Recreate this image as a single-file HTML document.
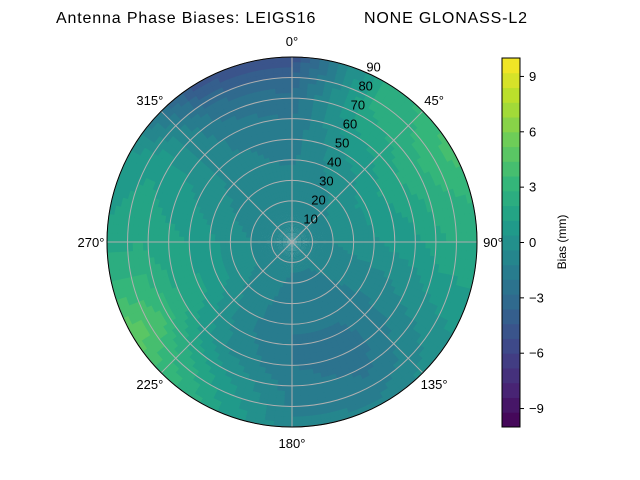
<!DOCTYPE html>
<html><head><meta charset="utf-8"><style>
body{margin:0;background:#fff}
svg{display:block;font-family:"Liberation Sans",sans-serif}
</style></head><body>
<svg id="c" width="640" height="480">
<text x="56" y="23" textLength="471" lengthAdjust="spacing" font-size="16" xml:space="preserve">Antenna Phase Biases: LEIGS16         NONE GLONASS-L2</text>
<g id="plot"></g>
<g id="cbar"></g>
<text transform="translate(566,242) rotate(-90)" text-anchor="middle" font-size="12">Bias (mm)</text>
</svg>
<script>
const zenithRows=[0,15,30,45,60,75,90];
const azCols=[0,30,60,90,120,150,180,210,240,270,300,330];
const biasGrid=[
[-0.5,-0.5,-0.5,-0.5,-0.5,-0.5,-0.5,-0.5,-0.5,-0.5,-0.5,-0.5],
[-1,-0.8,-0.6,-0.6,-1,-1.2,-1.2,-1,-0.6,-0.6,-0.8,-1],
[-1,-0.5,0,0,-1,-1.5,-1.5,-1,0,0,-0.5,-1],
[-1.5,0,1,0.5,-1,-2,-2,-1,1,1,0,-1],
[-2,1,2,1,-0.5,-2.5,-2,-0.5,2,1.5,0.5,-1.5],
[-3,2,3,2,0,-2,-1.5,1,4,2,1,-2.5],
[-5,2,4,2,0.5,-1,-1,2,5,1.5,0.5,-5]];
const ringTicks=[10,20,30,40,50,60,70,80,90];
const azTicks=[0,45,90,135,180,225,270,315];
const cbarTicks=[-9,-6,-3,0,3,6,9];
const vmin=-10,vmax=10,nLev=25;

const NS="http://www.w3.org/2000/svg";
const cx=292,cy=242,R=185;
const vir=[[68,1,84],[72,40,120],[62,74,137],[49,104,142],[38,130,142],[31,158,137],[53,183,121],[109,205,89],[180,222,44],[253,231,37]];
function viridis(t){t=Math.max(0,Math.min(1,t));const p=t*(vir.length-1),i=Math.min(vir.length-2,Math.floor(p)),f=p-i;
const c=vir[i].map((v,k)=>Math.round(v+(vir[i+1][k]-v)*f));return`rgb(${c})`;}
function levelColor(v){let b=Math.floor((v-vmin)/(vmax-vmin)*nLev);b=Math.max(0,Math.min(nLev-1,b));return viridis((b+0.5)/nLev);}
function val(az,z){az=((az%360)+360)%360;const ai=Math.floor(az/30),af=(az-ai*30)/30,a2=(ai+1)%12;
let zi=Math.min(5,Math.floor(z/15)),zf=(z-zi*15)/15;
const v0=biasGrid[zi][ai]*(1-af)+biasGrid[zi][a2]*af,v1=biasGrid[zi+1][ai]*(1-af)+biasGrid[zi+1][a2]*af;return v0*(1-zf)+v1*zf;}
const rs=z=>z/90*R;
function pt(az,r){const a=az*Math.PI/180;return[cx+r*Math.sin(a),cy-r*Math.cos(a)];}
function mk(tag,at,par){const e=document.createElementNS(NS,tag);for(const k in at)e.setAttribute(k,at[k]);par.appendChild(e);return e;}
const plot=document.getElementById('plot');
const cells=mk('g',{},plot);


const dA=3,dZ=2.5;
for(let z=0;z<90;z+=dZ)for(let a=0;a<360;a+=dA){
const r0=rs(z),r1=rs(z+dZ)+0.4;const p1=pt(a-0.3,r0),p2=pt(a+dA+0.3,r0),p3=pt(a+dA+0.3,r1),p4=pt(a-0.3,r1);
mk('path',{d:`M${p1}L${p2}L${p3}L${p4}Z`,fill:levelColor(val(a+dA/2,z+dZ/2))},cells);}
const grid=mk('g',{stroke:'#b0b0b0','stroke-width':1,fill:'none'},plot);


ringTicks.forEach(t=>mk('circle',{cx,cy,r:rs(t)},grid));
azTicks.forEach(a=>{const p=pt(a,R);mk('line',{x1:cx,y1:cy,x2:p[0],y2:p[1]},grid);});
mk('circle',{cx,cy,r:R,fill:'none',stroke:'#000','stroke-width':1},plot);
ringTicks.forEach(t=>{const p=pt(22.5,rs(t)+4);const e=mk('text',{x:p[0]+2,y:p[1]+4,'font-size':13,'text-anchor':'start'},plot);e.textContent=t;
});
azTicks.forEach(a=>{const p=pt(a,R+16);const e=mk('text',{x:p[0],y:p[1]+5,'font-size':13,'text-anchor':'middle'},plot);e.textContent=a+'°';
});
const cb=document.getElementById('cbar');const bx=502,by=58,bw=18,bh=369;
for(let i=0;i<nLev;i++){const y0=by+bh-(i+1)*bh/nLev;mk('rect',{x:bx,y:y0,width:bw,height:bh/nLev+0.5,fill:viridis((i+0.5)/nLev)},cb);}
mk('rect',{x:bx,y:by,width:bw,height:bh,fill:'none',stroke:'#000','stroke-width':1},cb);
cbarTicks.forEach(t=>{const y=by+bh-(t-vmin)/(vmax-vmin)*bh;mk('line',{x1:bx+bw,x2:bx+bw+4,y1:y,y2:y,stroke:'#000'},cb);
const e=mk('text',{x:bx+bw+9,y:y+4.5,'font-size':13},cb);e.textContent=t<0?'\u2212'+(-t):t;
});
</script>
</body></html>
